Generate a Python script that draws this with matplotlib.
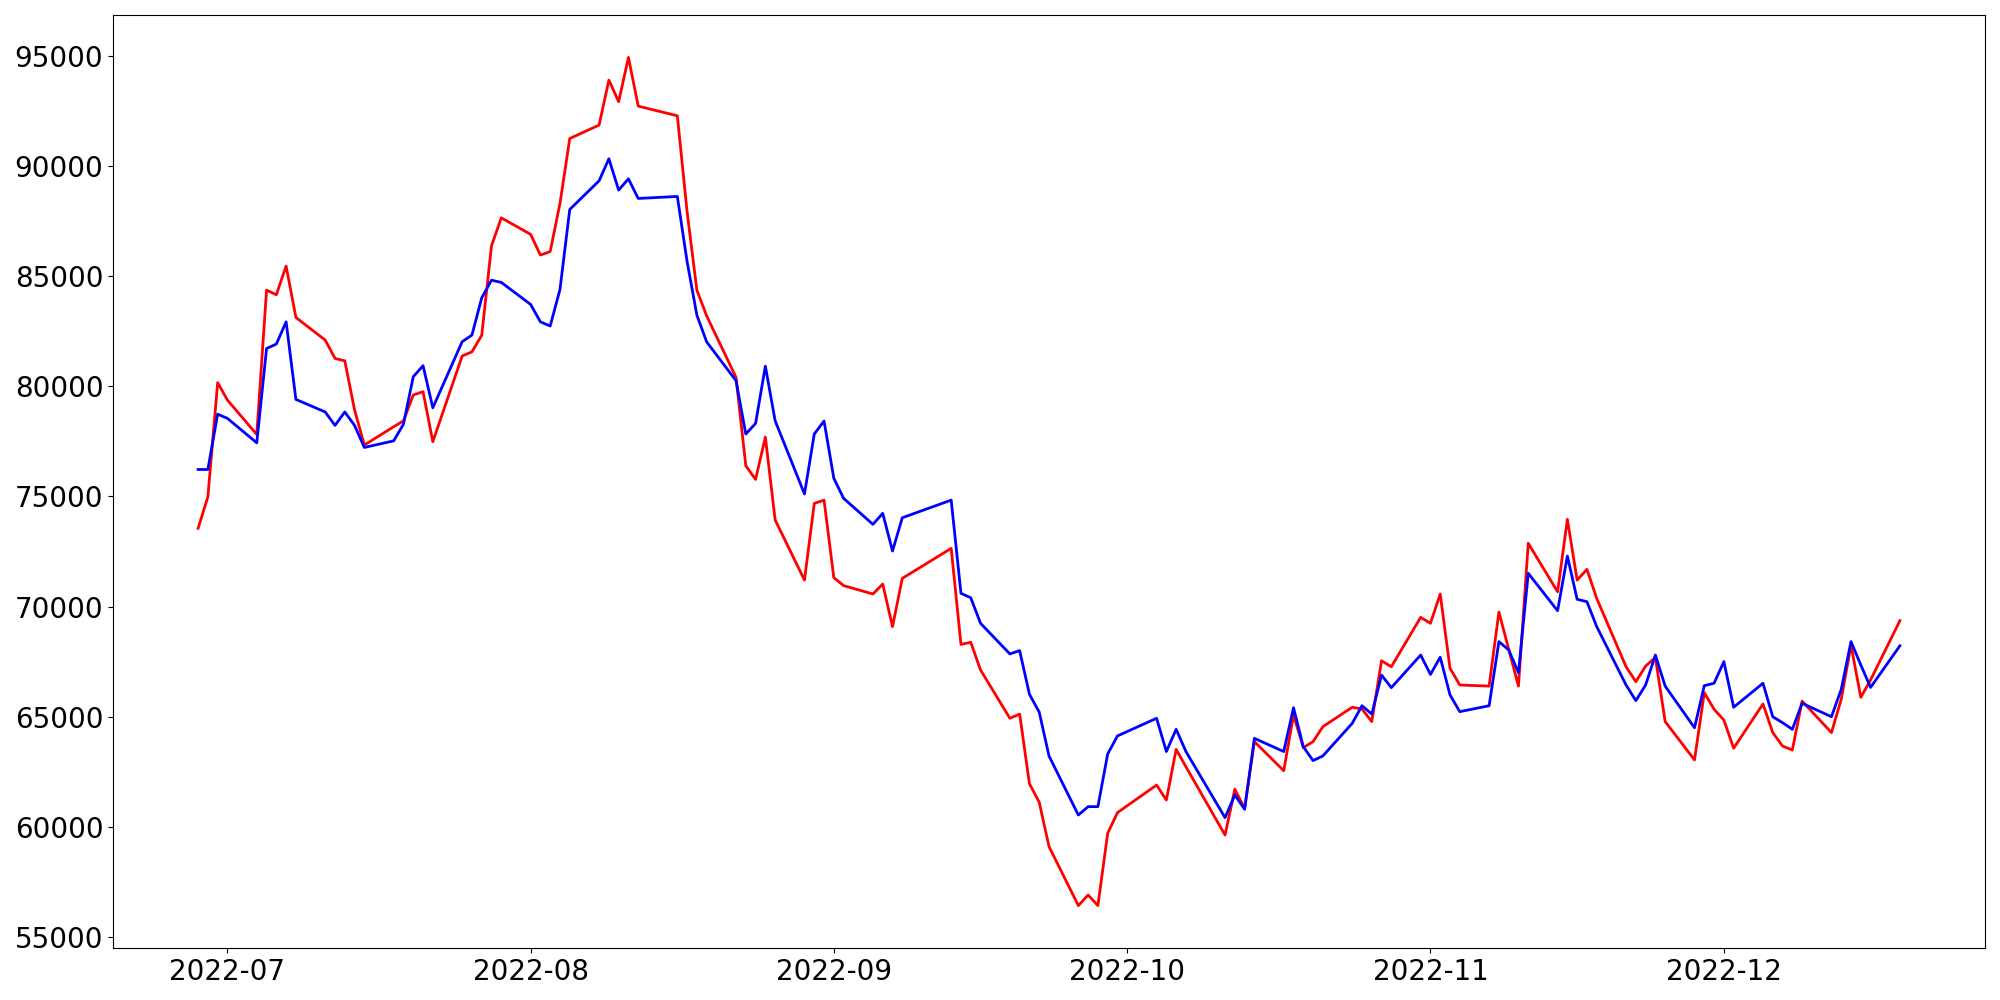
import matplotlib
matplotlib.use("Agg")
import matplotlib.pyplot as plt
import matplotlib.dates as mdates
import pandas as pd

dates = [
    "2022-06-28", "2022-06-29", "2022-06-30", "2022-07-01",
    "2022-07-04", "2022-07-05", "2022-07-06", "2022-07-07", "2022-07-08",
    "2022-07-11", "2022-07-12", "2022-07-13", "2022-07-14", "2022-07-15",
    "2022-07-18", "2022-07-19", "2022-07-20", "2022-07-21", "2022-07-22",
    "2022-07-25", "2022-07-26", "2022-07-27", "2022-07-28", "2022-07-29",
    "2022-08-01", "2022-08-02", "2022-08-03", "2022-08-04", "2022-08-05",
    "2022-08-08", "2022-08-09", "2022-08-10", "2022-08-11", "2022-08-12",
    "2022-08-16", "2022-08-17", "2022-08-18", "2022-08-19",
    "2022-08-22", "2022-08-23", "2022-08-24", "2022-08-25", "2022-08-26",
    "2022-08-29", "2022-08-30", "2022-08-31", "2022-09-01", "2022-09-02",
    "2022-09-05", "2022-09-06", "2022-09-07", "2022-09-08",
    "2022-09-13", "2022-09-14", "2022-09-15", "2022-09-16",
    "2022-09-19", "2022-09-20", "2022-09-21", "2022-09-22", "2022-09-23",
    "2022-09-26", "2022-09-27", "2022-09-28", "2022-09-29", "2022-09-30",
    "2022-10-04", "2022-10-05", "2022-10-06", "2022-10-07",
    "2022-10-11", "2022-10-12", "2022-10-13", "2022-10-14",
    "2022-10-17", "2022-10-18", "2022-10-19", "2022-10-20", "2022-10-21",
    "2022-10-24", "2022-10-25", "2022-10-26", "2022-10-27", "2022-10-28",
    "2022-10-31", "2022-11-01", "2022-11-02", "2022-11-03", "2022-11-04",
    "2022-11-07", "2022-11-08", "2022-11-09", "2022-11-10", "2022-11-11",
    "2022-11-14", "2022-11-15", "2022-11-16", "2022-11-17", "2022-11-18",
    "2022-11-21", "2022-11-22", "2022-11-23", "2022-11-24", "2022-11-25",
    "2022-11-28", "2022-11-29", "2022-11-30", "2022-12-01", "2022-12-02",
    "2022-12-05", "2022-12-06", "2022-12-07", "2022-12-08", "2022-12-09",
    "2022-12-12", "2022-12-13", "2022-12-14", "2022-12-15", "2022-12-16",
    "2022-12-19",
]

red_values = [
    73550, 74980, 80160, 79370,
    77810, 84360, 84150, 85450, 83120,
    82090, 81260, 81150, 78920, 77330,
    78160, 78430, 79600, 79750, 77480,
    81370, 81560, 82310, 86370, 87640,
    86890, 85950, 86110, 88290, 91240,
    91850, 93890, 92910, 94920, 92710,
    92270, 87900, 84350, 83190,
    80400, 76390, 75770, 77690, 73930,
    71200, 74680, 74830, 71310, 70950,
    70570, 71020, 69090, 71280,
    72640, 68280, 68380, 67120,
    64930, 65120, 61960, 61120, 59110,
    56430, 56910, 56430, 59710, 60650,
    61900, 61220, 63520, 62730,
    59630, 61710, 60840, 63870,
    62550, 65080, 63600, 63870, 64550,
    65430, 65350, 64780, 67540, 67270,
    69510, 69240, 70570, 67200, 66440,
    66390, 69750, 68070, 66390, 72870,
    70670, 73960, 71200, 71690, 70370,
    67270, 66590, 67300, 67690, 64780,
    63040, 66090, 65340, 64850, 63570,
    65580, 64280, 63670, 63490, 65710,
    64280, 65790, 68250, 65880, 66670,
    69360,
]

blue_values = [
    76220, 76220, 78730, 78540,
    77430, 81710, 81910, 82920, 79400,
    78830, 78220, 78830, 78220, 77220,
    77520, 78280, 80430, 80930, 79020,
    82020, 82320, 84010, 84810, 84710,
    83710, 82920, 82730, 84390, 88020,
    89320, 90320, 88900, 89410, 88520,
    88610, 85650, 83220, 82010,
    80250, 77830, 78310, 80910, 78430,
    75110, 77830, 78420, 75820, 74910,
    73730, 74230, 72520, 74030,
    74830, 70600, 70400, 69240,
    67850, 68000, 66020, 65210, 63220,
    60540, 60920, 60920, 63310, 64130,
    64930, 63420, 64430, 63420,
    60420, 61450, 60800, 64020,
    63420, 65410, 63640, 63010, 63220,
    64700, 65500, 65120, 66890, 66320,
    67800, 66920, 67700, 65990, 65230,
    65500, 68410, 68030, 67000, 71510,
    69810, 72290, 70330, 70220, 69090,
    66440, 65730, 66440, 67800, 66390,
    64500, 66410, 66520, 67500, 65430,
    66520, 65000, 64730, 64430, 65610,
    65000, 66240, 68410, 67350, 66330,
    68220,
]

x = pd.to_datetime(dates)

fig, ax = plt.subplots(figsize=(20, 10), dpi=100)
ax.plot(x, red_values, color="red", linewidth=2)
ax.plot(x, blue_values, color="blue", linewidth=2)

ax.xaxis.set_major_locator(mdates.MonthLocator())
ax.xaxis.set_major_formatter(mdates.DateFormatter("%Y-%m"))
ax.tick_params(axis="both", labelsize=20)

fig.subplots_adjust(left=0.0565, right=0.9925, bottom=0.052, top=0.985)
fig.savefig("out.png", dpi=100)
